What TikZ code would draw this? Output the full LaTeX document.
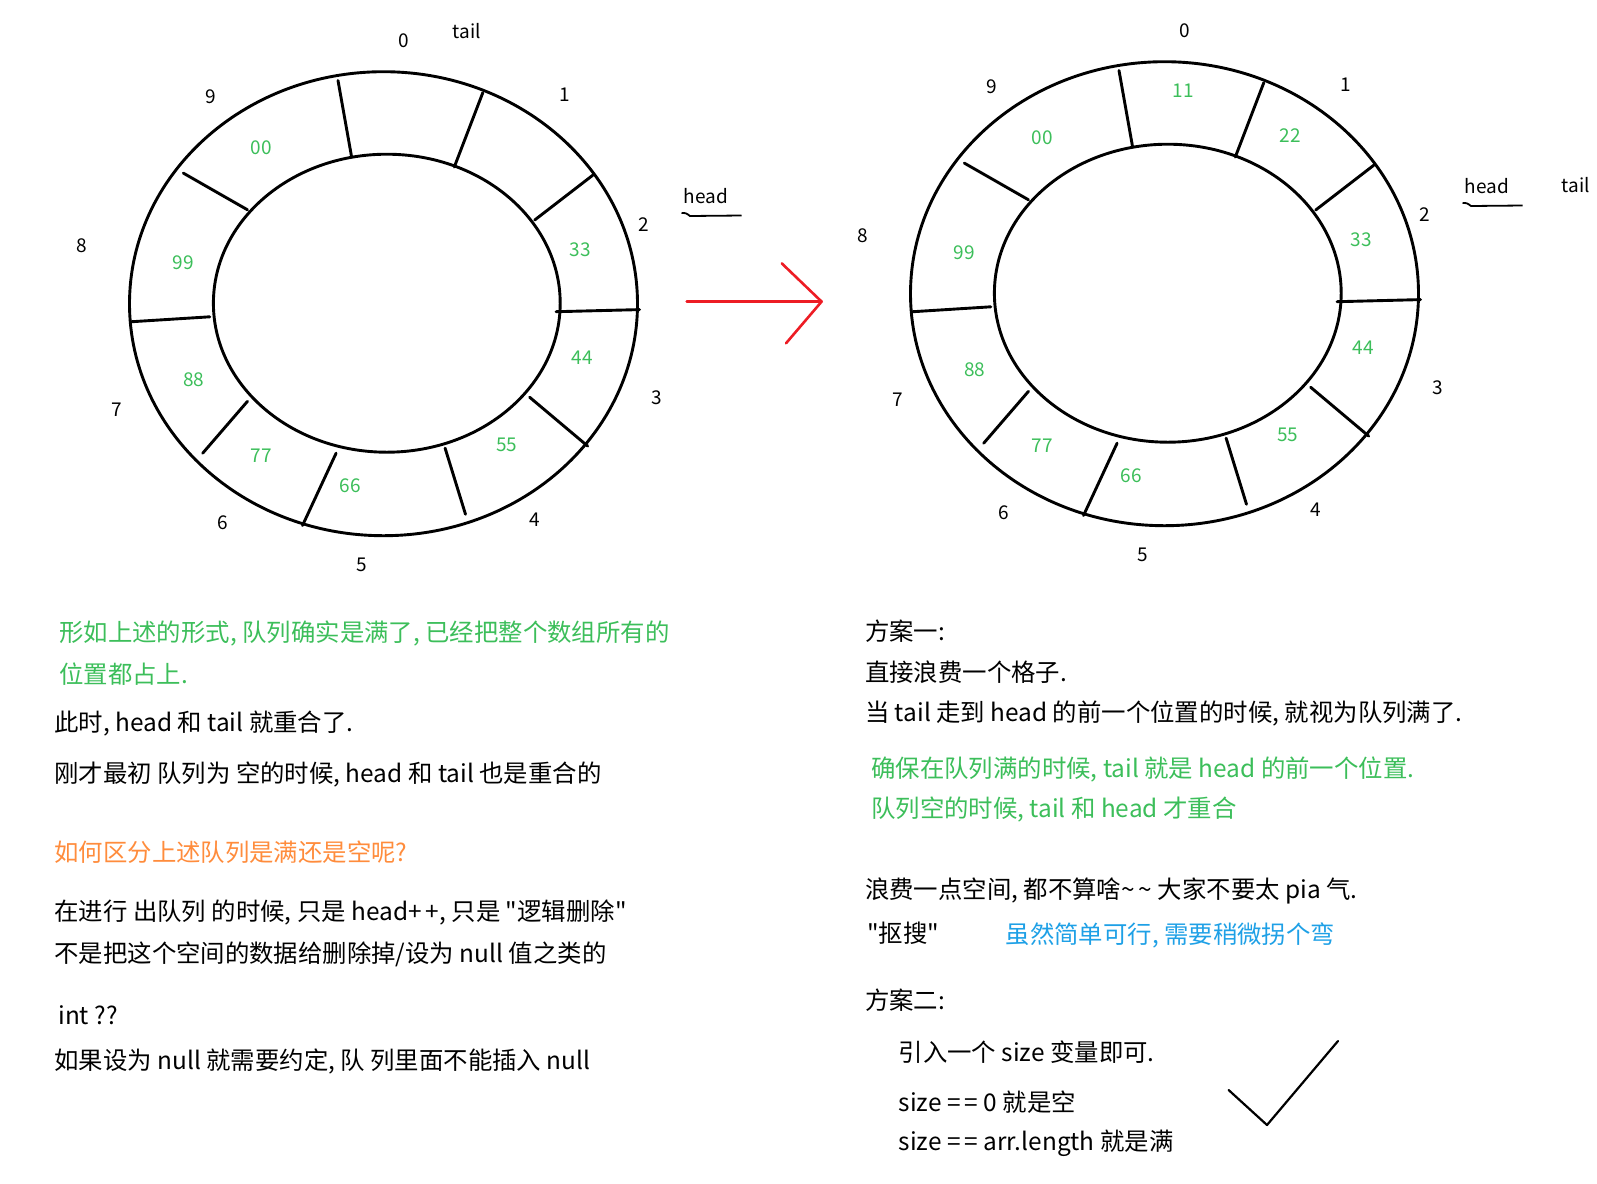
\documentclass[tikz,border=0pt]{standalone}
\usepackage{fontspec}
\newfontfamily\cjk{Noto Sans CJK SC}
\usepackage{xcolor}
\usepackage{tikz}
\usetikzlibrary{positioning}

\definecolor{notegreen}{RGB}{60,190,90}
\definecolor{noteorange}{RGB}{255,140,60}
\definecolor{noteblue}{RGB}{30,160,230}
\definecolor{arrowred}{RGB}{237,28,36}

% ring frame with cells, indices and the head marker (left-ring coordinates)
\newcommand\queuering[1]{%
  \draw[ringline] (383.5,303.7) ellipse [x radius=127pt, y radius=116pt];
  \draw[ringline] (386.8,303.2) ellipse [x radius=86.7pt, y radius=74.5pt];
  \foreach \ax/\ay/\bx/\by in {338/80.5/351.4/155.8, 482.8/92.7/454.3/167,
      592.8/175.2/534.7/220, 639.6/309.6/556.1/311.7, 587.7/446.1/529.6/397.2,
      465.5/514.3/445.1/448.1, 302.5/525.5/336.1/453.2, 202.7/453.2/247.5/401.3,
      130.4/321.8/209.8/316.8, 183.3/173.1/247.5/209.8}
    \draw[ringline] (\ax,\ay) -- (\bx,\by);
  \foreach \i/\px/\py in {0/403.5/40.5, 1/564.5/95.2, 2/643.3/225, 3/657/397.6,
      4/534.7/520, 5/361.4/565, 6/223/523, 7/117.2/410, 8/81.5/246.2, 9/210.8/97.2}
    \node[idx] (#1-idx\i) at (\px,\py) {\i};
  \foreach \v/\px/\py in {00/261.5/148, 99/183/263, 88/193.7/379.3, 77/261.5/455.3,
      66/350.5/486, 55/506.9/445.1, 44/582/357.6, 33/580.5/250.1}
    \node[val] (#1-val\v) at (\px,\py) {\v};
  \node[idx] (#1-head) at (705.7,195.8) {head};
  \draw[markline] (681.5,213) .. controls (686,213) .. (690,216) -- (741.5,215.5);
}

\begin{document}
\begin{tikzpicture}[
  x=0.5pt, y=-0.5pt,
  ringline/.style={line width=1.45pt, line cap=round},
  markline/.style={line width=0.9pt},
  arrowline/.style={draw=arrowred, line width=1.3pt, line cap=round, line join=round},
  tickline/.style={line width=1.1pt, line cap=round, line join=round},
  idx/.style={inner sep=0pt, font=\cjk\fontsize{9.5}{11}\selectfont},
  val/.style={idx, text=notegreen},
  note/.style={anchor=west, inner sep=0pt, font=\cjk\fontsize{12.2}{14}\selectfont},
  good/.style={note, text=notegreen},
  ask/.style={note, text=noteorange},
  hint/.style={note, text=noteblue}
]
  \useasboundingbox (0,0) rectangle (1597,1184);

  % full queue: tail meets head
  \queuering{L}
  \node[idx] (L-tail) at (466.7,31) {tail};

  % arrow between the two rings
  \coordinate (arrow-start) at (686.7,301.6);
  \coordinate (arrow-tip) at (821.6,301.6);
  \coordinate (arrow-up) at (781.8,263.4);
  \coordinate (arrow-down) at (786,343.3);
  \draw[arrowline] (arrow-start) -- (arrow-tip);
  \draw[arrowline] (arrow-up) -- (arrow-tip) -- (arrow-down);

  % one cell wasted
  \begin{scope}[shift={(781,-10)}]
    \queuering{R}
    \node[val] (R-val11) at (402.5,100.6) {11};
    \node[val] (R-val22) at (509.4,145.5) {22};
  \end{scope}
  \node[idx] (R-tail) at (1575.6,185.4) {tail};

  % notes, left column
  \node[good] (full1) at (59,633.5) {形如上述的形式, 队列确实是满了, 已经把整个数组所有的};
  \node[good] (full2) at (59,674.2) {位置都占上.};
  \node[note] (same) at (54,723.1) {此时, head 和 tail 就重合了.};
  \node[note] (empty) at (54,774) {刚才最初 队列为 空的时候, head 和 tail 也是重合的};
  \node[ask] (which) at (54,852.5) {如何区分上述队列是满还是空呢?};
  \node[note] (dequeue) at (54,912.6) {在进行 出队列 的时候, 只是 head+\,+, 只是 "逻辑删除"};
  \node[note] (nodelete) at (54,954.3) {不是把这个空间的数据给删除掉/设为 null 值之类的};
  \node[note] (intq) at (58,1015.4) {int ??};
  \node[note] (nullrule) at (54,1061.3) {如果设为 null 就需要约定, 队 列里面不能插入 null};

  % notes, right column
  \node[note] (planA) at (864.7,631.5) {方案一:};
  \node[note] (waste) at (864.7,672.2) {直接浪费一个格子.};
  \node[note] (tailhead) at (864.7,713) {当 tail 走到 head 的前一个位置的时候, 就视为队列满了.};
  \node[good] (ensure) at (870.8,769) {确保在队列满的时候, tail 就是 head 的前一个位置.};
  \node[good] (emptymeet) at (870.8,809.7) {队列空的时候, tail 和 head 才重合};
  \node[note] (cheap) at (864.7,891.2) {浪费一点空间, 都不算啥\textasciitilde\,\textasciitilde{} 大家不要太 pia 气.};
  \node[note] (stingy) at (866.7,933) {"抠搜"};
  \node[hint] (detour) at (1005.3,935) {虽然简单可行, 需要稍微拐个弯};
  \node[note] (planB) at (864.7,1000.2) {方案二:};
  \node[note] (sizevar) at (898.3,1052.1) {引入一个 size 变量即可.};
  \node[note] (sizezero) at (898.3,1102) {size =\,= 0 就是空};
  \node[note] (sizefull) at (898.3,1142.8) {size =\,= arr.length 就是满};

  % tick mark
  \coordinate (tick-a) at (1228.6,1090);
  \coordinate (tick-b) at (1267,1125);
  \coordinate (tick-c) at (1338,1041);
  \draw[tickline] (tick-a) -- (tick-b) -- (tick-c);
\end{tikzpicture}
\end{document}
